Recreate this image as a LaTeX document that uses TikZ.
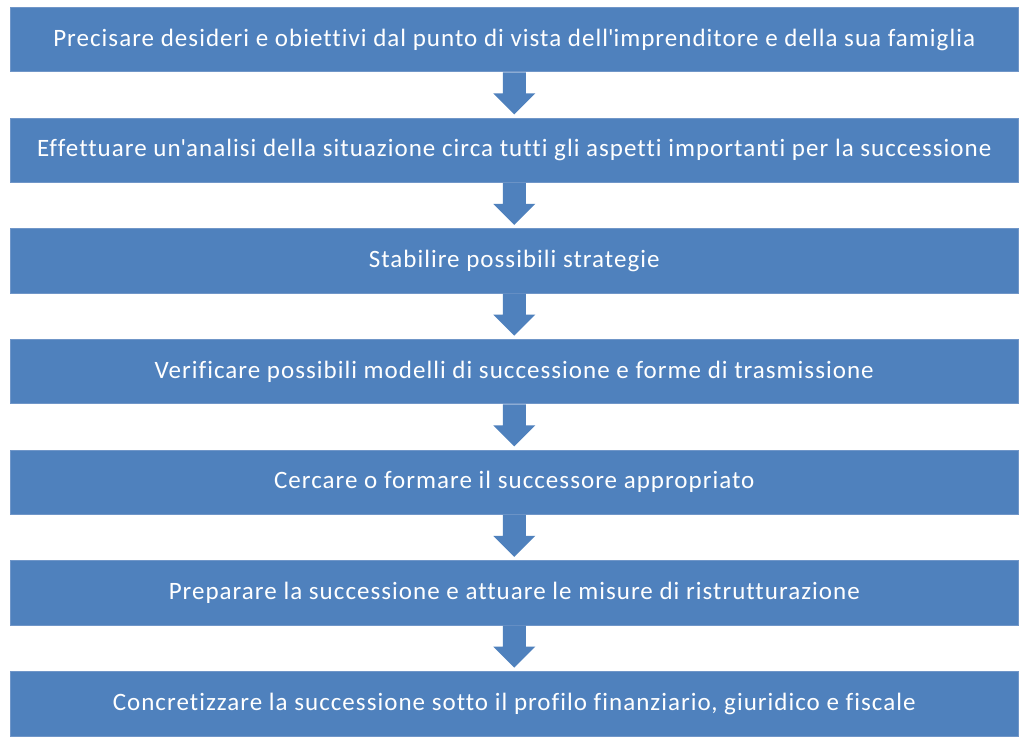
\documentclass[tikz,border=0pt]{standalone}
\usepackage{fontspec}
\setmainfont{Carlito}[Ligatures={NoCommon},LetterSpace=4.1]
\definecolor{boxblue}{HTML}{4F81BD}
\definecolor{boxedge}{HTML}{7096C8}
\begin{document}
\begin{tikzpicture}[x=1pt,y=1pt,
  stepbox/.style={fill=boxblue,draw=boxedge,line width=0.8pt,minimum width=1008.5pt,minimum height=64.5pt,inner sep=0pt,text=white,font=\fontsize{25}{29}\selectfont,anchor=north},
  blockarrow/.style={fill=boxblue}]
\useasboundingbox (0,0) rectangle (1024,744);
\fill[white] (0,0) rectangle (1024,744);
\node[stepbox] (b1) at (514.25,737) {Precisare desideri e obiettivi dal punto di vista dell\textquotesingle imprenditore e della sua famiglia};
\node[stepbox] (b2) at (514.25,626.33) {Effettuare un\textquotesingle analisi della situazione circa tutti gli aspetti importanti per la successione};
\node[stepbox] (b3) at (514.25,515.67) {Stabilire possibili strategie};
\node[stepbox] (b4) at (514.25,405) {Verificare possibili modelli di successione e forme di trasmissione};
\node[stepbox] (b5) at (514.25,294.33) {Cercare o formare il successore appropriato};
\node[stepbox] (b6) at (514.25,183.67) {Preparare la successione e attuare le misure di ristrutturazione};
\node[stepbox] (b7) at (514.25,73) {Concretizzare la successione sotto il profilo finanziario, giuridico e fiscale};
\foreach \a/\b in {b1/b2,b2/b3,b3/b4,b4/b5,b5/b6,b6/b7}{
  \fill[blockarrow,shift={(\a.south)}] (-11.5,0) -- (-11.5,-21) -- (-21,-21) -- (0,-42) -- (21,-21) -- (11.5,-21) -- (11.5,0) -- cycle;
}
\end{tikzpicture}
\end{document}
